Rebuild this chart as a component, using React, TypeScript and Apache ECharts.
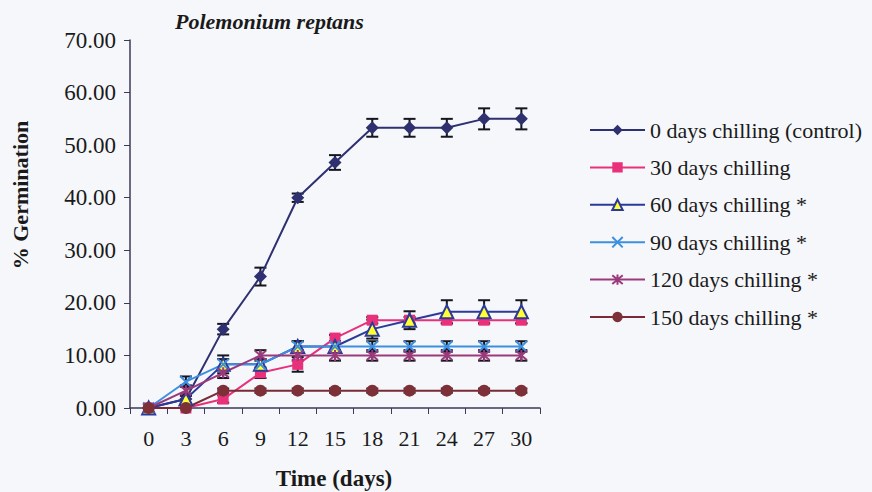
import React, { useEffect, useRef } from "react";
import * as echarts from "echarts";

const days = ["0", "3", "6", "9", "12", "15", "18", "21", "24", "27", "30"];
const yTicks = [0, 10, 20, 30, 40, 50, 60, 70];

const control = [0, 1.7, 15, 25, 40, 46.7, 53.3, 53.3, 53.3, 55, 55];
const controlErr = [0, 0.8, 1.0, 1.7, 0.8, 1.4, 1.7, 1.7, 1.7, 2.0, 2.0];
const d30 = [0, 0, 1.7, 6.7, 8.3, 13.3, 16.7, 16.7, 16.7, 16.7, 16.7];
const d30Err = [0, 0, 0.7, 1.0, 1.4, 0.6, 0.6, 0.6, 0.6, 0.6, 0.6];
const d60 = [0, 1.7, 8.3, 8.3, 11.7, 11.7, 15, 16.7, 18.3, 18.3, 18.3];
const d60Err = [0, 1.0, 1.7, 1.0, 1.0, 1.0, 1.8, 1.7, 2.2, 2.2, 2.2];
const d90 = [0, 5, 8.3, 8.3, 11.7, 11.7, 11.7, 11.7, 11.7, 11.7, 11.7];
const d90Err = [0, 1.0, 1.0, 1.0, 1.0, 1.0, 1.0, 1.0, 1.0, 1.0, 1.0];
const d120 = [0, 3.3, 6.7, 10, 10, 10, 10, 10, 10, 10, 10];
const d120Err = [0, 1.0, 1.0, 1.0, 1.0, 1.0, 1.0, 1.0, 1.0, 1.0, 1.0];
const d150 = [0, 0, 3.3, 3.3, 3.3, 3.3, 3.3, 3.3, 3.3, 3.3, 3.3];
const d150Err = [0, 0, 0.4, 0.4, 0.4, 0.4, 0.4, 0.4, 0.4, 0.4, 0.4];

const seriesNames = [
  "0 days chilling (control)",
  "30 days chilling",
  "60 days chilling *",
  "90 days chilling *",
  "120 days chilling *",
  "150 days chilling *",
];

const FONT = "'Liberation Serif', 'Times New Roman', serif";

export default function App() {
  const ref = useRef<HTMLDivElement>(null);
  useEffect(() => {
    document.body.style.margin = "0";
    const chart = echarts.init(ref.current!, null, { renderer: "svg" });

    const errData = (vals: number[], errs: number[]) =>
      vals
        .map((v, i) => [i, v - errs[i], v + errs[i], errs[i]])
        .filter((d) => d[3] > 0);

    const errSeries = (vals: number[], errs: number[]) => ({
      type: "custom",
      silent: true,
      z: 3,
      data: errData(vals, errs),
      encode: { x: 0, y: [1, 2] },
      renderItem: (params: any, api: any) => {
        const x = api.value(0);
        const lo = api.value(1);
        const hi = api.value(2);
        const p1 = api.coord([x, hi]);
        const p2 = api.coord([x, lo]);
        const w = 6;
        const st = { stroke: "#15151f", lineWidth: 2 };
        return {
          type: "group",
          children: [
            { type: "line", shape: { x1: p1[0], y1: p1[1], x2: p2[0], y2: p2[1] }, style: st },
            { type: "line", shape: { x1: p1[0] - w, y1: p1[1], x2: p1[0] + w, y2: p1[1] }, style: st },
            { type: "line", shape: { x1: p2[0] - w, y1: p2[1], x2: p2[0] + w, y2: p2[1] }, style: st },
          ],
        };
      },
    });

    const lineSeries = (
      name: string,
      data: number[],
      color: string,
      symbol: string,
      size: number,
      itemStyle: any
    ) => ({
      type: "line",
      name,
      data,
      symbol,
      symbolSize: size,
      z: 4,
      lineStyle: { color, width: 2 },
      itemStyle,
      emphasis: { disabled: true },
    });

    const option: any = {
      animation: false,
      backgroundColor: "#f5f7fb",
      textStyle: { fontFamily: FONT },
      title: {
        text: "Polemonium reptans",
        left: 170,
        top: 5,
        textStyle: {
          fontFamily: FONT,
          fontStyle: "italic",
          fontWeight: "bold",
          fontSize: 22,
          color: "#1a1a1a",
        },
      },
      grid: { left: 130, right: 332, top: 40, bottom: 84 },
      xAxis: {
        type: "category",
        data: days,
        boundaryGap: true,
        axisLine: { lineStyle: { color: "#3a3a5a", width: 1.5 } },
        axisTick: { show: true, interval: 0, length: 6, lineStyle: { color: "#3a3a5a" } },
        axisLabel: { fontFamily: FONT, fontSize: 22, color: "#1a1a1a", margin: 19, interval: 0 },
        splitLine: { show: false },
      },
      yAxis: {
        type: "value",
        min: yTicks[0],
        max: yTicks[yTicks.length - 1],
        interval: 10,
        axisLine: { show: true, lineStyle: { color: "#3a3a5a", width: 1.5 } },
        axisTick: { show: true, length: 6, lineStyle: { color: "#3a3a5a" } },
        axisLabel: {
          fontFamily: FONT,
          fontSize: 23,
          color: "#1a1a1a",
          margin: 14,
          formatter: (v: number) => v.toFixed(2),
        },
        splitLine: { show: false },
      },
      legend: {
        orient: "vertical",
        left: 584,
        top: 114,
        itemWidth: 55,
        itemHeight: 13,
        itemGap: 15.4,
        data: seriesNames,
        textStyle: { fontFamily: FONT, fontSize: 22, color: "#1a1a1a", lineHeight: 22 },
      },
      graphic: [
        {
          type: "text",
          x: 20,
          y: 195,
          rotation: Math.PI / 2,
          style: {
            text: "% Germination",
            font: `bold 22px ${FONT}`,
            fill: "#1a1a1a",
            textAlign: "center",
            textVerticalAlign: "middle",
          },
        },
        {
          type: "text",
          x: 334,
          y: 478,
          style: {
            text: "Time (days)",
            font: `bold 23px ${FONT}`,
            fill: "#1a1a1a",
            textAlign: "center",
            textVerticalAlign: "middle",
          },
        },
      ],
      series: [
        lineSeries(seriesNames[0], control, "#2e3070", "diamond", 13, { color: "#2e3070" }),
        lineSeries(seriesNames[1], d30, "#e8317a", "rect", 11, { color: "#e8317a" }),
        lineSeries(seriesNames[2], d60, "#2b3a99", "triangle", 13, {
          color: "#ffff33",
          borderColor: "#2b3a99",
          borderWidth: 2,
        }),
        lineSeries(seriesNames[3], d90, "#3d8fe0", "path://M0,0L10,10M10,0L0,10", 11, {
          color: "none",
          borderColor: "#3d8fe0",
          borderWidth: 2,
        }),
        lineSeries(seriesNames[4], d120, "#9a3a7a", "path://M0,0L10,10M10,0L0,10M5,-1L5,11", 11, {
          color: "none",
          borderColor: "#9a3a7a",
          borderWidth: 2,
        }),
        lineSeries(seriesNames[5], d150, "#7a2a35", "circle", 12, { color: "#7d3038" }),
        errSeries(control, controlErr),
        errSeries(d30, d30Err),
        errSeries(d60, d60Err),
        errSeries(d90, d90Err),
        errSeries(d120, d120Err),
        errSeries(d150, d150Err),
      ],
    };
    chart.setOption(option);
    return () => chart.dispose();
  }, []);
  return <div ref={ref} style={{ width: 872, height: 492 }} />;
}
